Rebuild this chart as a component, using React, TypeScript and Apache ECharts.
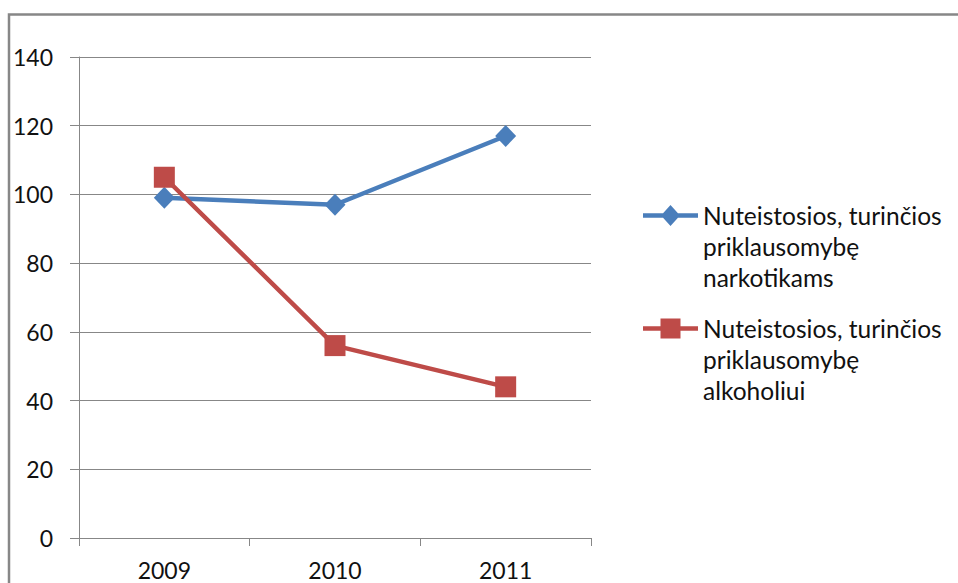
import React, { useEffect, useRef } from "react";
import * as echarts from "echarts";

const categories = ["2009", "2010", "2011"];
const narkotikams = [99, 97, 117];
const alkoholiui = [105, 56, 44];
const seriesNames = [
  "Nuteistosios, turinčios\npriklausomybę\nnarkotikams",
  "Nuteistosios, turinčios\npriklausomybę\nalkoholiui",
];

const FONT = "Lato";
const GRAY = "#878787";

// legend icons: line + marker on first text line, invisible corners stretch box to 3 lines
const corners = "M0 0L0.01 0L0 0.01Z M0 93L0.01 93L0 92.99Z";
const diamondIcon =
  "path://" + corners + " M0 13.2L55 13.2L55 17.8L0 17.8Z M27.5 5L37 15.5L27.5 26L18 15.5Z";
const squareIcon =
  "path://" + corners + " M0 13.2L55 13.2L55 17.8L0 17.8Z M17.5 5.5L37.5 5.5L37.5 25.5L17.5 25.5Z";

export default function App() {
  const ref = useRef<HTMLDivElement>(null);
  useEffect(() => {
    if (!ref.current) return;
    const chart = echarts.init(ref.current, null, { renderer: "svg" });
    chart.setOption({
      animation: false,
      backgroundColor: "#ffffff",
      textStyle: { fontFamily: FONT },
      grid: { left: 79, right: 367, top: 57, bottom: 45, containLabel: false },
      graphic: [
        {
          type: "rect",
          shape: { x: 9, y: 14.5, width: 1200, height: 1200 },
          style: { fill: "none", stroke: GRAY, lineWidth: 2.5 },
          silent: true,
        },
      ],
      legend: {
        orient: "vertical",
        left: 643,
        top: 200,
        padding: 0,
        itemWidth: 55,
        itemHeight: 93,
        itemGap: 20,
        symbolKeepAspect: false,
        textStyle: { fontFamily: FONT, fontSize: 24.5, color: "#111111", lineHeight: 31 },
        data: [
          { name: seriesNames[0], icon: diamondIcon },
          { name: seriesNames[1], icon: squareIcon },
        ],
      },
      xAxis: {
        type: "category",
        data: categories,
        boundaryGap: true,
        axisLine: { lineStyle: { color: GRAY, width: 1 } },
        axisTick: { show: true, length: 8, lineStyle: { color: GRAY } },
        axisLabel: { fontFamily: FONT, fontSize: 23, color: "#111111", margin: 20 },
      },
      yAxis: {
        type: "value",
        min: 0,
        max: 140,
        interval: 20,
        axisLine: { show: true, lineStyle: { color: GRAY, width: 1 } },
        axisTick: { show: true, length: 9, lineStyle: { color: GRAY } },
        splitLine: { show: true, lineStyle: { color: GRAY, width: 1 } },
        axisLabel: { fontFamily: FONT, fontSize: 23, color: "#111111", margin: 26 },
      },
      series: [
        {
          name: seriesNames[0],
          type: "line",
          data: narkotikams,
          color: "#4A7EBB",
          symbol: "diamond",
          symbolSize: [21, 22],
          lineStyle: { width: 4.5, color: "#4A7EBB" },
          itemStyle: { color: "#4A7EBB" },
        },
        {
          name: seriesNames[1],
          type: "line",
          data: alkoholiui,
          color: "#BE4B48",
          symbol: "rect",
          symbolSize: 21,
          lineStyle: { width: 4.5, color: "#BE4B48" },
          itemStyle: { color: "#BE4B48" },
        },
      ],
    });
    return () => chart.dispose();
  }, []);
  return (
    <div
      ref={ref}
      style={{ position: "fixed", left: 0, top: 0, width: 958, height: 583 }}
    />
  );
}
